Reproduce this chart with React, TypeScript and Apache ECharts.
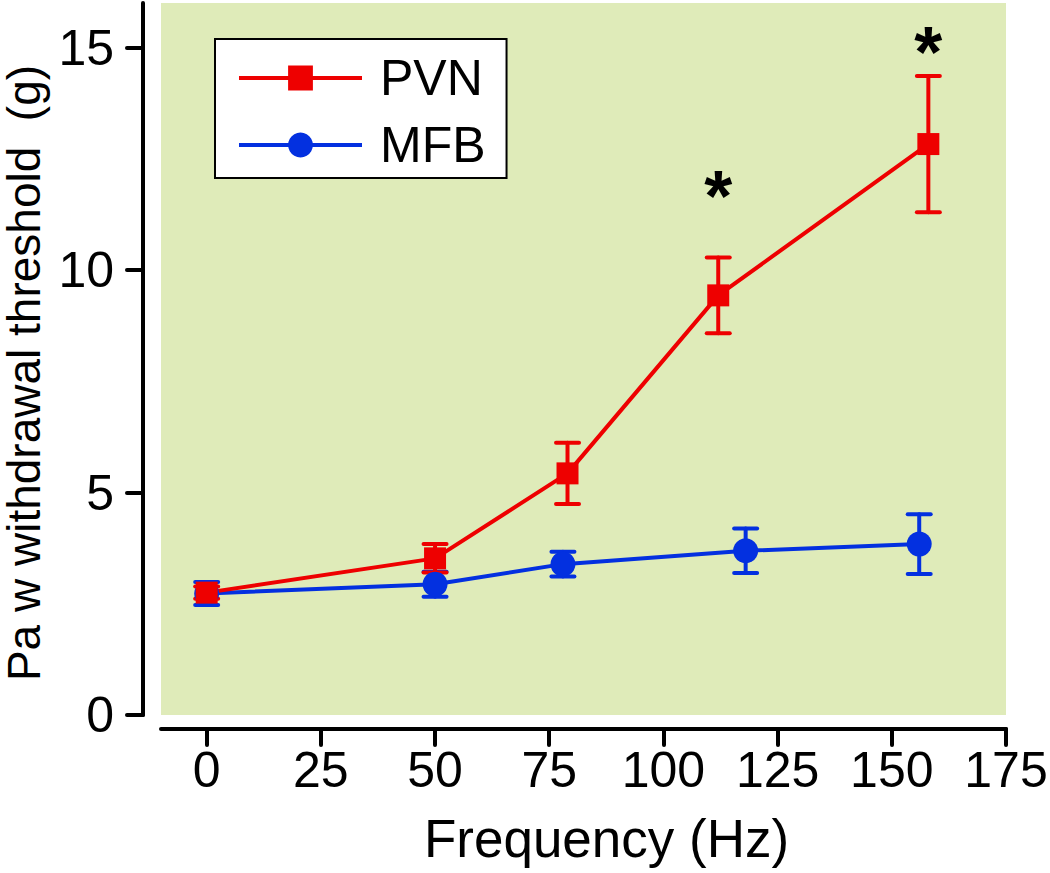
import React, { useEffect, useRef } from "react";
import * as echarts from "echarts";

const pvnX = [0, 50, 79, 112, 158];
const pvnY = [2.75, 3.52, 5.43, 9.43, 12.83];
const pvnErr = [0.14, 0.32, 0.69, 0.85, 1.53];
const mfbX = [0, 50, 78, 118, 156];
const mfbY = [2.73, 2.94, 3.39, 3.69, 3.84];
const mfbErr = [0.26, 0.28, 0.28, 0.5, 0.67];
const sigX = [112, 158];
const sigY = [11.9, 15.15];
const xTicks = [0, 25, 50, 75, 100, 125, 150, 175];
const yTicks = [0, 5, 10, 15];

const RED = "#ee0000";
const BLUE = "#0330e0";
const FONT = "'Liberation Sans', Arial, Helvetica, sans-serif";

function errSeries(xs: number[], ys: number[], es: number[], color: string) {
  return {
    type: "custom",
    silent: true,
    data: xs.map((x, i) => [x, ys[i], es[i]]),
    encode: { x: 0, y: 1 },
    renderItem: (params: any, api: any) => {
      const x = api.value(0);
      const y = api.value(1);
      const e = api.value(2);
      const hi = api.coord([x, y + e]);
      const lo = api.coord([x, y - e]);
      const hw = 11.5;
      const style = { stroke: color, lineWidth: 4, lineCap: "round" };
      return {
        type: "group",
        children: [
          { type: "line", shape: { x1: hi[0], y1: hi[1], x2: lo[0], y2: lo[1] }, style },
          { type: "line", shape: { x1: hi[0] - hw, y1: hi[1], x2: hi[0] + hw, y2: hi[1] }, style },
          { type: "line", shape: { x1: lo[0] - hw, y1: lo[1], x2: lo[0] + hw, y2: lo[1] }, style },
        ],
      };
    },
  };
}

export default function App() {
  const ref = useRef<HTMLDivElement>(null);
  useEffect(() => {
    if (!ref.current) return;
    const chart = echarts.init(ref.current, undefined, { renderer: "svg" });
    chart.setOption({
      animation: false,
      backgroundColor: "#ffffff",
      textStyle: { fontFamily: FONT },
      grid: {
        left: 161,
        right: 44,
        top: 3,
        bottom: 158,
        containLabel: false,
        outerBoundsMode: "none",
        show: true,
        backgroundColor: "#dfebb9",
        borderWidth: 0,
      },
      legend: {
        left: 215,
        top: 39,
        orient: "vertical",
        data: ["PVN", "MFB"],
        backgroundColor: "#ffffff",
        borderColor: "#000000",
        borderWidth: 2,
        borderRadius: 0,
        padding: [14, 21, 8, 22],
        itemWidth: 123,
        itemHeight: 31,
        itemGap: 17,
        selectedMode: false,
        lineStyle: { width: 4 },
        textStyle: {
          fontFamily: FONT,
          fontSize: 50,
          color: "#000",
          lineHeight: 50,
          padding: [0, 0, 0, 13],
        },
      },
      xAxis: {
        type: "value",
        min: -10,
        max: 175,
        offset: 14,
        name: "Frequency (Hz)",
        nameLocation: "middle",
        nameGap: 83,
        nameTextStyle: { fontFamily: FONT, fontSize: 53, color: "#000", padding: [0, 0, 0, 46] },
        axisLine: { show: true, onZero: false, lineStyle: { color: "#000", width: 4, cap: "round" } },
        axisTick: { show: true, length: 16, customValues: xTicks, lineStyle: { color: "#000", width: 4, cap: "round" } },
        axisLabel: { customValues: xTicks, margin: 16, fontFamily: FONT, fontSize: 50, color: "#000" },
        splitLine: { show: false },
      },
      yAxis: {
        type: "value",
        min: 0,
        max: 16,
        interval: 5,
        offset: 18,
        name: "Pa w withdrawal threshold  (g)",
        nameLocation: "middle",
        nameGap: 86,
        nameRotate: 90,
        nameTextStyle: { fontFamily: FONT, fontSize: 46, color: "#000", padding: [0, 28, 0, 0] },
        axisLine: { show: true, onZero: false, lineStyle: { color: "#000", width: 4, cap: "round" } },
        axisTick: { show: true, length: 16, customValues: yTicks, lineStyle: { color: "#000", width: 4, cap: "round" } },
        axisLabel: { customValues: yTicks, margin: 29, fontFamily: FONT, fontSize: 50, color: "#000" },
        splitLine: { show: false },
      },
      series: [
        errSeries(mfbX, mfbY, mfbErr, BLUE),
        {
          name: "MFB",
          type: "line",
          data: mfbX.map((x, i) => [x, mfbY[i]]),
          symbol: "circle",
          symbolSize: 25,
          itemStyle: { color: BLUE },
          lineStyle: { color: BLUE, width: 4 },
        },
        errSeries(pvnX, pvnY, pvnErr, RED),
        {
          name: "PVN",
          type: "line",
          data: pvnX.map((x, i) => [x, pvnY[i]]),
          symbol: "rect",
          symbolSize: 22,
          itemStyle: { color: RED },
          lineStyle: { color: RED, width: 4 },
        },
        {
          name: "sig",
          type: "scatter",
          silent: true,
          data: sigX.map((x, i) => [x, sigY[i]]),
          symbol: "circle",
          symbolSize: 2,
          itemStyle: { color: "rgba(0,0,0,0)" },
          label: {
            show: true,
            position: "inside",
            formatter: "*",
            fontFamily: FONT,
            fontSize: 72,
            fontWeight: "bold",
            color: "#000000",
            textBorderWidth: 0,
            opacity: 1,
            offset: [0, 11],
          },
        },
      ],
    });
    return () => chart.dispose();
  }, []);
  return (
    <div
      ref={ref}
      style={{ position: "fixed", left: 0, top: 0, width: 1050, height: 873, background: "#fff" }}
    />
  );
}
